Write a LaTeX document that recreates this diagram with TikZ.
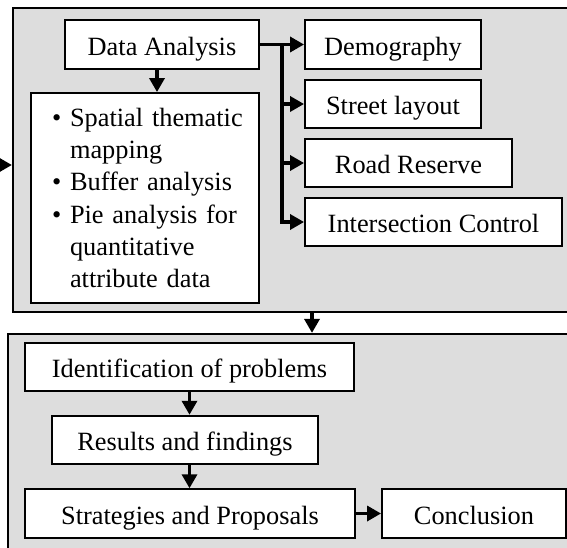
\documentclass[tikz,border=0pt]{standalone}
\usepackage{fontspec}
\setmainfont{Liberation Serif}
\usetikzlibrary{arrows.meta}
\definecolor{panelgray}{RGB}{221,221,221}

\begin{document}
\begin{tikzpicture}[x=0.02cm, y=-0.02cm,
  panel/.style={draw, rectangle, line width=1.3pt, fill=panelgray, inner sep=0pt},
  frame/.style={draw, rectangle, line width=1.1pt, fill=white, inner sep=0pt, font=\fontsize{15}{18.4}\selectfont},
  box/.style={frame, minimum height=0.97cm, text height=12pt, text depth=0pt},
  flow/.style={-{Triangle[length=0.28cm, width=0.3cm]}, line width=1.9pt}]
\useasboundingbox (0,0) rectangle (567,547);
\fill[white] (0,0) rectangle (567,547);

% the two grey panels
\node[panel, minimum width=11.96cm, minimum height=6.08cm] (upper) at (312,160) {};
\node[panel, minimum width=12.16cm, minimum height=5.6cm] (lower) at (312,474) {};

% upper panel
\node[box, minimum width=3.88cm] (analysis) at (162,44.5) {Data Analysis};
\node[box, minimum width=3.52cm] (demo) at (393,44.5) {Demography};
\node[box, minimum width=3.52cm] (street) at (393,104) {Street layout};
\node[box, minimum width=4.14cm] (reserve) at (408.5,163) {Road Reserve};
\node[box, minimum width=5.14cm] (control) at (433.5,222) {Intersection Control};

\node[frame, minimum height=4.2cm, inner xsep=0.42cm, text width=3.72cm, align=left] (methods) at (145,198) {%
\textbullet~\mbox{Spatial thematic}\\
\hphantom{\textbullet~}mapping\\
\textbullet~\mbox{Buffer analysis}\\
\textbullet~\makebox[3.4cm][s]{Pie analysis for}\\
\hphantom{\textbullet~}quantitative\\
\hphantom{\textbullet~}\mbox{attribute data}};

% lower panel
\node[box, minimum width=6.58cm] (problems) at (189.5,367) {Identification of problems};
\node[box, minimum width=5.32cm] (findings) at (185,440) {Results and findings};
\node[box, minimum width=6.6cm] (proposals) at (190,513.5) {Strategies and Proposals};
\node[box, minimum width=3.68cm] (conclusion) at (474,513.5) {Conclusion};

% connectors
\coordinate (inlet) at (0,165);
\draw[flow] (inlet) -- (inlet -| upper.west);
\draw[flow] ([xshift=-0.1cm]analysis.south) -- ([xshift=-0.1cm]analysis.south |- methods.north);
\draw[flow] (analysis.east) -- (demo.west);
\coordinate (fork) at ([xshift=0.44cm]analysis.east);
\draw[flow] (fork) |- (street.west);
\draw[flow] (fork) |- (reserve.west);
\draw[flow] (fork) |- (control.west);
\draw[flow] (upper.south) -- (lower.north);
\draw[flow] (problems.south) -- (problems.south |- findings.north);
\draw[flow] (problems.south |- findings.south) -- (problems.south |- proposals.north);
\draw[flow] (proposals.east) -- (conclusion.west);
\end{tikzpicture}
\end{document}
